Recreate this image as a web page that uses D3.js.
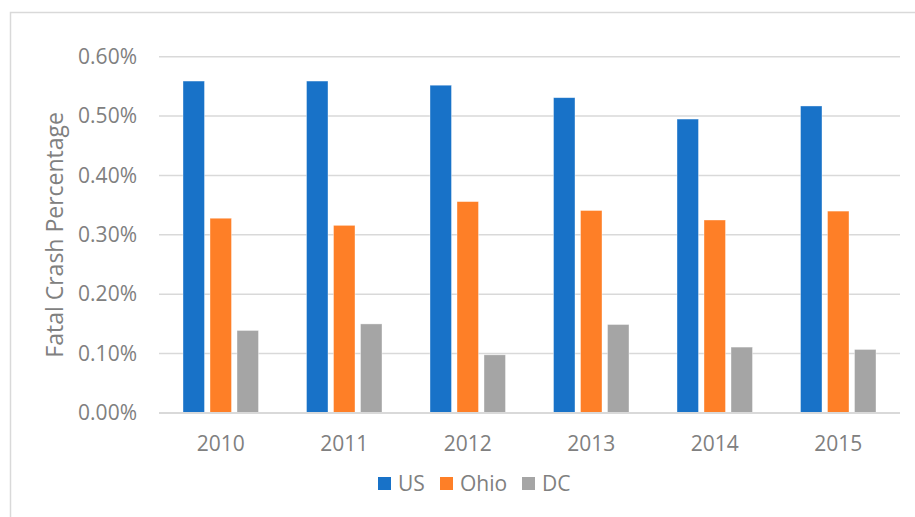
<!DOCTYPE html>
<html>
<head>
<meta charset="utf-8">
<script src="https://cdn.jsdelivr.net/npm/d3@7"></script>
<style>
  body { margin: 0; background: #fff; }
  svg { font-family: "Open Sans", sans-serif; }
</style>
</head>
<body>
<svg width="915" height="517"></svg>
<script>
const years = ["2010", "2011", "2012", "2013", "2014", "2015"];
const series = ["US", "Ohio", "DC"];
const usValues   = [0.559, 0.559, 0.552, 0.531, 0.495, 0.517];
const ohioValues = [0.328, 0.316, 0.356, 0.341, 0.325, 0.340];
const dcValues   = [0.139, 0.150, 0.098, 0.149, 0.111, 0.107];
const yTicks = [0, 0.1, 0.2, 0.3, 0.4, 0.5, 0.6];
const colors = ["#1872c8", "#fe7f27", "#a5a5a5"];

const values = { US: usValues, Ohio: ohioValues, DC: dcValues };

const svg = d3.select("svg"),
      plotLeft = 159, plotRight = 900, plotTop = 56.7, plotBottom = 413;

// chart border
svg.append("rect")
  .attr("x", 10.5).attr("y", 12.5)
  .attr("width", 940).attr("height", 540)
  .attr("fill", "none").attr("stroke", "#d9d9d9").attr("stroke-width", 1.5);

var x = d3.scaleBand().domain(years).range([plotLeft, plotRight]);
var x1 = d3.scaleBand().domain(series).range([-37.75, 37.75]).paddingInner(0.204);
var y = d3.scaleLinear().domain([0, 0.6]).range([plotBottom, plotTop]);

// gridlines
svg.append("g")
  .selectAll("line")
  .data(yTicks)
  .enter()
  .append("line")
  .attr("x1", plotLeft).attr("x2", plotRight)
  .attr("y1", d => y(d)).attr("y2", d => y(d))
  .attr("stroke", "#d9d9d9").attr("stroke-width", 1.5);

// bars
svg.append("g")
  .selectAll("g")
  .data(years)
  .enter()
  .append("g")
  .attr("transform", d => "translate(" + (x(d) + x.bandwidth() / 2) + ",0)")
  .selectAll("rect")
  .data((d, i) => series.map((s, j) => ({ s: s, v: values[s][i], c: colors[j] })))
  .enter()
  .append("rect")
  .attr("x", d => x1(d.s))
  .attr("width", x1.bandwidth())
  .attr("y", d => y(d.v))
  .attr("height", d => plotBottom - y(d.v))
  .attr("fill", d => d.c)
  .attr("stroke", "#fff").attr("stroke-opacity", 0.5).attr("stroke-width", 0.75);

// baseline
svg.append("line")
  .attr("x1", plotLeft).attr("x2", plotRight)
  .attr("y1", plotBottom).attr("y2", plotBottom)
  .attr("stroke", "#d9d9d9").attr("stroke-width", 2);

// y axis
var y_axis = d3.axisLeft(y).tickValues(yTicks)
  .tickFormat(d => d3.format(".2f")(d) + "%")
  .tickSize(0).tickPadding(0);
var gy = svg.append("g").attr("transform", "translate(137,0)").call(y_axis);
gy.select(".domain").remove();
gy.selectAll("text").attr("font-size", 21).attr("fill", "#808080").attr("font-family", "Open Sans");

// x axis
var x_axis = d3.axisBottom(x).tickSize(0).tickPadding(0);
var gx = svg.append("g").attr("transform", "translate(0,436)").call(x_axis);
gx.select(".domain").remove();
gx.selectAll("text").attr("font-size", 21).attr("fill", "#808080").attr("font-family", "Open Sans");

// axis title
svg.append("text")
  .attr("transform", "translate(63," + ((plotTop + plotBottom) / 2) + ") rotate(-90)")
  .attr("text-anchor", "middle")
  .attr("font-size", 23)
  .attr("fill", "#808080")
  .text("Fatal Crash Percentage");

// legend
const legendX = [378, 440, 522];
var lg = svg.append("g")
  .selectAll("g")
  .data(series)
  .enter()
  .append("g")
  .attr("transform", (d, i) => "translate(" + legendX[i] + ",477)");
lg.append("rect").attr("width", 13).attr("height", 13).attr("fill", (d, i) => colors[i]);
lg.append("text")
  .attr("x", 20).attr("y", 14)
  .attr("font-size", 21).attr("fill", "#808080")
  .text(d => d);
</script>
</body>
</html>
